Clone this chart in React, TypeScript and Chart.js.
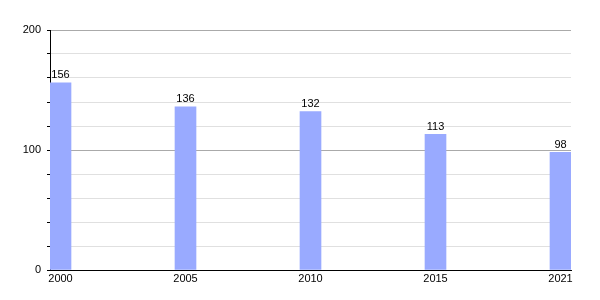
import React, { useEffect, useRef } from "react";
import { Chart, registerables } from "chart.js";

Chart.register(...registerables);

const categories = ["2000", "2005", "2010", "2015", "2021"];
const values = [156, 136, 132, 113, 98];
const yTickLabels = [0, 100, 200];

const valueLabels = {
  id: "valueLabels",
  afterDatasetsDraw(chart: any) {
    const ctx = chart.ctx;
    const meta = chart.getDatasetMeta(0);
    ctx.save();
    ctx.font = "11px 'Liberation Sans', Arial, sans-serif";
    ctx.fillStyle = "#000";
    ctx.textAlign = "center";
    ctx.textBaseline = "bottom";
    meta.data.forEach((el: any, i: number) => {
      ctx.fillText(String(values[i]), el.x, el.y - 2);
    });
    ctx.restore();
  },
};

export default function App() {
  const ref = useRef<HTMLCanvasElement>(null);
  useEffect(() => {
    const chart = new Chart(ref.current!, {
      type: "bar",
      data: {
        datasets: [
          {
            data: values.map((v, i) => ({ x: i, y: v })),
            backgroundColor: "#99aaff",
            barThickness: 21,
          },
        ],
      },
      options: {
        animation: false,
        responsive: false,
        layout: { padding: { left: 0, right: 29, top: 30, bottom: 0 } },
        plugins: { legend: { display: false }, tooltip: { enabled: false } },
        scales: {
          x: {
            type: "linear",
            offset: false,
            min: -0.084,
            max: 4.084,
            afterBuildTicks: (axis: any) => {
              axis.ticks = categories.map((_, i) => ({ value: i }));
            },
            afterFit: (axis: any) => {
              axis.height = 30;
            },
            ticks: {
              autoSkip: false,
              maxRotation: 0,
              padding: 2,
              color: "#000",
              font: { family: "'Liberation Sans', Arial, sans-serif", size: 11 },
              callback: (v: any) => categories[Math.round(v)] ?? "",
            },
            grid: { display: false, drawTicks: false, offset: false },
            border: { color: "#000", width: 1 },
          },
          y: {
            min: 0,
            max: 200,
            afterBuildTicks: (axis: any) => {
              const t = [];
              for (let v = 0; v <= 200; v += 20) t.push({ value: v });
              axis.ticks = t;
            },
            afterFit: (axis: any) => {
              axis.width = 50;
            },
            ticks: {
              autoSkip: false,
              padding: 6,
              color: "#000",
              font: { family: "'Liberation Sans', Arial, sans-serif", size: 11 },
              callback: (v: any) => (yTickLabels.includes(v) ? String(v) : ""),
            },
            grid: {
              color: (c: any) => (c.tick && c.tick.value % 100 === 0 ? "#aaaaaa" : "#e0e0e0"),
              tickColor: "#000",
              tickLength: 3,
              lineWidth: 1,
            },
            border: { color: "#000", width: 1 },
          },
        },
      },
      plugins: [valueLabels],
    });
    return () => chart.destroy();
  }, []);
  return (
    <div style={{ position: "fixed", left: 0, top: 0, width: 600, height: 300, background: "#fff" }}>
      <canvas ref={ref} width={600} height={300} />
    </div>
  );
}
